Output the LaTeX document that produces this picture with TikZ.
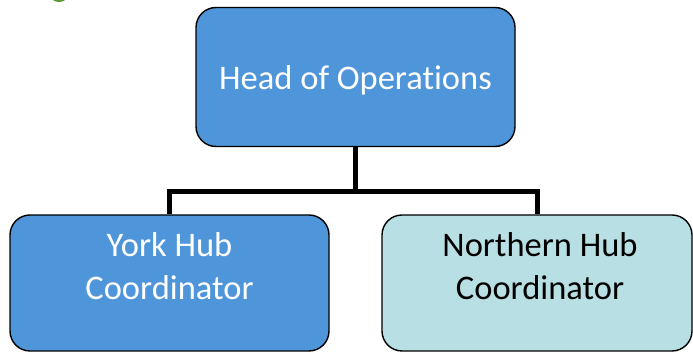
\documentclass[tikz,border=0pt]{standalone}
\usepackage{fontspec}
\setmainfont[Ligatures=NoCommon]{Carlito}
\usetikzlibrary{positioning}

\definecolor{azulcaja}{HTML}{4F95D9}
\definecolor{turquesa}{HTML}{B8DFE3}
\definecolor{verdeoffice}{HTML}{5E9A3A}

\tikzset{
  caja/.style={draw=black, line width=1.4pt, rounded corners=20pt, inner sep=0pt},
  texto/.style={font=\fontsize{34.5}{43}\selectfont, align=center, inner sep=0pt},
  enlace/.style={line width=5pt}
}

\begin{document}
\begin{tikzpicture}[x=1pt, y=1pt]
  \clip (0,0) rectangle (693,352);

  % Marca verde cortada arriba
  \fill[verdeoffice] (59,355) ellipse (7.5 and 5);

  % Cajas
  \node[caja, fill=azulcaja, minimum width=319pt, minimum height=139pt] (head) at (355.5,275) {};
  \node[caja, fill=azulcaja, minimum width=319pt, minimum height=136pt] (york) at (169.5,69) {};
  \node[caja, fill=turquesa, minimum width=310pt, minimum height=136pt] (north) at (537,69) {};

  % Textos
  \node[texto, white] (headtext) at ([yshift=-3pt]head.center) {Head of Operations};
  \node[texto, white] (yorktext) at ([yshift=17pt]york.center) {York Hub\\Coordinator};
  \node[texto, black] (northtext) at ([xshift=3pt, yshift=17pt]north.center) {Northern Hub\\Coordinator};

  % Conectores
  \coordinate (barra) at ([yshift=-44.5pt]head.south);
  \draw[enlace] (head.south) -- (barra) -| (york.north);
  \draw[enlace] (barra) -| (north.north);
\end{tikzpicture}
\end{document}
